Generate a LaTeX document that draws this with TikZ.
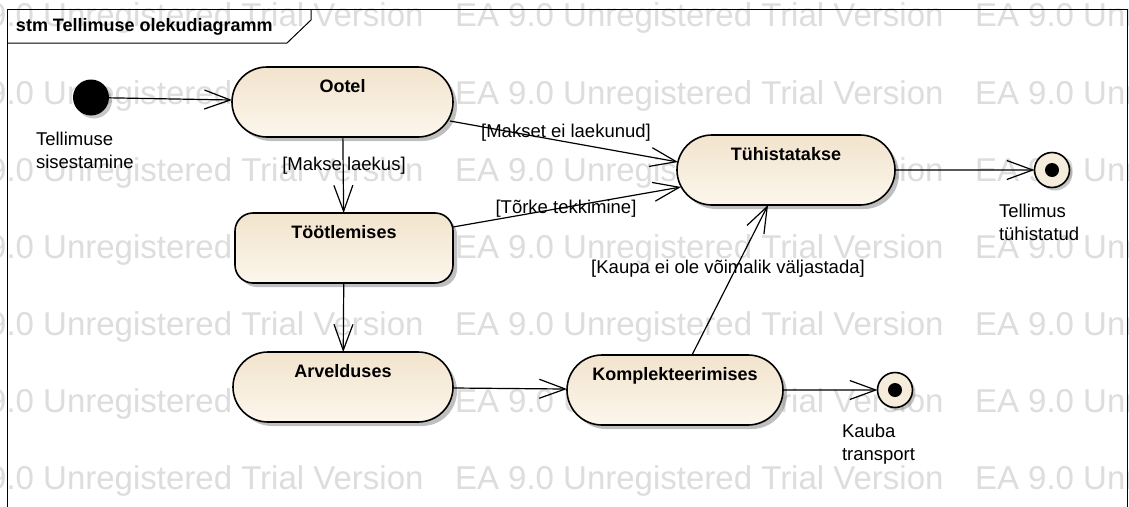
\documentclass[tikz,border=0pt]{standalone}
\usepackage{fontspec}
\setmainfont{Liberation Sans}
\usetikzlibrary{arrows.meta,shapes.misc,shadows,calc}

\definecolor{wmark}{RGB}{221,221,221}
\definecolor{statetop}{RGB}{242,228,205}
\definecolor{statebot}{RGB}{252,246,236}
\definecolor{endfill}{RGB}{246,236,220}

\begin{document}
\begin{tikzpicture}[x=1pt,y=-1pt,
  every node/.style={inner sep=0pt, outer sep=0pt},
  txt/.style={font=\fontsize{18.5}{23}\selectfont},
  guard/.style={txt, anchor=base},
  caption/.style={txt, align=left, anchor=north west},
  stitle/.style={font=\fontsize{18}{22}\selectfont\bfseries, anchor=base},
  wm/.style={font=\fontsize{33}{33}\selectfont, text=wmark, anchor=base west},
  statebase/.style={draw=black, line width=1.6pt,
    top color=statetop, bottom color=statebot,
    drop shadow={shadow xshift=4pt, shadow yshift=-4pt, opacity=0.45, fill=black!55}},
  stadium/.style={statebase, rounded rectangle, minimum height=70pt},
  roundbox/.style={statebase, rectangle, rounded corners=18pt, minimum height=70pt},
  initstate/.style={circle, fill=black, minimum size=36pt,
    drop shadow={shadow xshift=3pt, shadow yshift=-3pt, opacity=0.4, fill=black!55}},
  finalstate/.style={circle, draw=black, line width=1.6pt, fill=endfill, minimum size=35pt,
    drop shadow={shadow xshift=3pt, shadow yshift=-3pt, opacity=0.4, fill=black!55}},
  flow/.style={line width=1.2pt, -{Straight Barb[length=26pt,width=19pt,line width=1.2pt]}},
]
\useasboundingbox (0,0) rectangle (1129,506);
\clip (0,0) rectangle (1129,506);
\fill[white] (0,0) rectangle (1129,506);

% background watermark rows
\foreach \r in {0,...,6} {
  \foreach \c in {0,1,2} {
    \node[wm] (wm-\r-\c) at ({-65+520*\c},{27+77*\r}) {EA 9.0 Unregistered Trial Version};
  }
}

% diagram frame and its title tab
\draw[line width=1pt] (7,520) -- (7,9) -- (1127,9) -- (1127,520);
\draw[line width=1pt] (7,43) -- (287,43) -- (311,20) -- (311,9);
\node[font=\fontsize{18}{22}\selectfont\bfseries, anchor=base west] (frametitle) at (16,31) {stm Tellimuse olekudiagramm};

% states
\node[initstate] (init) at (91,97.5) {};
\node[stadium, minimum width=221pt] (ootel) at (342.5,102) {};
\node[roundbox, minimum width=218pt] (toot) at (344,248) {};
\node[stadium, minimum width=220pt] (arv) at (343,387) {};
\node[stadium, minimum width=216pt] (kompl) at (675,390) {};
\node[stadium, minimum width=218pt] (tuh) at (786,170) {};
\node[finalstate] (endA) at (1052,170) {};
\node[finalstate] (endB) at (895,390) {};
\fill (endA) circle (7);
\fill (endB) circle (7);

% state names
\node[stitle] (t-ootel) at ($(ootel.north)+(0,25)$) {Ootel};
\node[stitle] (t-toot) at ($(toot.north)+(0,25)$) {Töötlemises};
\node[stitle] (t-arv) at ($(arv.north)+(0,25)$) {Arvelduses};
\node[stitle] (t-kompl) at ($(kompl.north)+(0,25)$) {Komplekteerimises};
\node[stitle] (t-tuh) at ($(tuh.north)+(0,25)$) {Tühistatakse};

% pseudo-state captions
\node[caption] (c-init) at (36,132) {Tellimuse\\sisestamine};
\node[caption] (c-endA) at (999,204) {Tellimus\\tühistatud};
\node[caption] (c-endB) at (842,424) {Kauba\\transport};

% transitions
\draw[flow] (init) -- (ootel);
\draw[flow] (ootel) -- (toot);
\draw[flow] (toot) -- (arv);
\draw[flow] (arv) -- (kompl);
\draw[flow] (kompl) -- (endB);
\draw[flow] (tuh) -- (endA);
\draw[flow] ($(ootel.east)+(-3,19)$) -- ($(tuh.west)+(1,-8)$);
\draw[flow] ($(toot.north east)+(0,14)$) -- ($(tuh.west)+(4,17)$);
\draw[flow] ($(kompl.north)+(17,0)$) -- ($(tuh.south)+(-18,0)$);

% guards
\node[guard] (g1) at (344,170) {[Makse laekus]};
\node[guard] (g2) at (566,137) {[Makset ei laekunud]};
\node[guard] (g3) at (566,213) {[Tõrke tekkimine]};
\node[guard] (g4) at (728,273) {[Kaupa ei ole võimalik väljastada]};
\end{tikzpicture}
\end{document}
